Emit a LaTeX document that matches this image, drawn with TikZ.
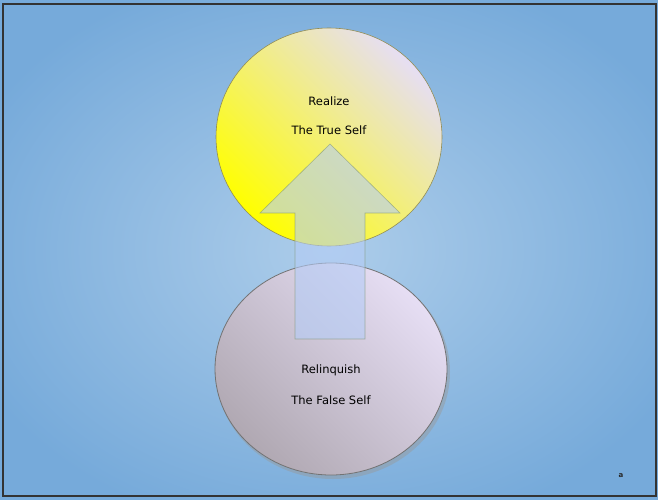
\documentclass[tikz,border=0pt]{standalone}
\usepackage{fontspec}
\setmainfont{DejaVu Sans}
\usetikzlibrary{shadings}
\definecolor{bgouter}{HTML}{76AADA}
\definecolor{bginner}{HTML}{ADCDEA}
\definecolor{sunyellow}{HTML}{FFFF00}
\definecolor{midyellow}{HTML}{F8F250}
\definecolor{palelav}{HTML}{E6DEF4}
\definecolor{greymauve}{HTML}{B0A8B2}
\definecolor{arrowfill}{HTML}{B4CCF6}
\definecolor{arrowedge}{HTML}{7E9470}
\tikzset{
  label text/.style={font=\fontsize{11.5}{14}\selectfont, text=black, align=center},
}
\begin{document}
\begin{tikzpicture}[x=1pt,y=-1pt]
\useasboundingbox (0,0) rectangle (658,500);
% background
\shade[inner color=bginner, outer color=bgouter] (-60,-40) rectangle (718,540);
\draw[black!80, line width=1.5pt] (3,4) rectangle (656,496);
% bottom circle
\fill[black!40, opacity=0.45] (333,372) ellipse [x radius=117, y radius=107];
\shade[left color=greymauve, right color=palelav, shading angle=135, draw=black!55, line width=0.8pt]
  (331,369) ellipse [x radius=116, y radius=106];
\node[coordinate] (bot) at (331,369) {};
% top circle
\shade[left color=sunyellow, middle color=midyellow, right color=palelav, shading angle=135, draw=olive!60!black!70, line width=0.6pt]
  (329,137) ellipse [x radius=113, y radius=109];
\node[coordinate] (top) at (329,137) {};
% arrow
\fill[arrowfill, opacity=0.6] (295,339) -- (295,213) -- (260,213) -- (330,144) -- (400,213) -- (365,213) -- (365,339) -- cycle;
\draw[arrowedge, opacity=0.6, line width=0.6pt] (295,339) -- (295,213) -- (260,213) -- (330,144) -- (400,213) -- (365,213) -- (365,339) -- cycle;
% texts
\node[label text] (t1) at (329,101) {Realize};
\node[label text] (t2) at (329,130) {The True Self};
\node[label text] (b1) at (331,370) {Relinquish};
\node[label text] (b2) at (331,400) {The False Self};
\node[font=\fontsize{7}{8}\selectfont\bfseries, text=black!85] (pg) at (621,476) {a};
\end{tikzpicture}
\end{document}
